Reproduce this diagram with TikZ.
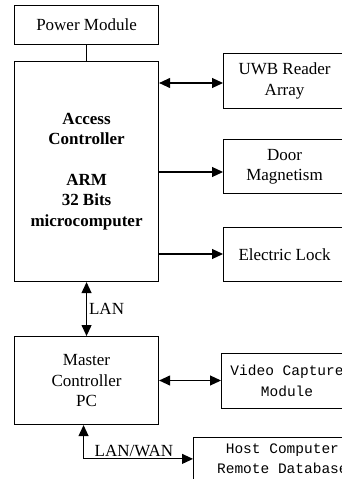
\documentclass[tikz,border=0pt]{standalone}
\usepackage{fontspec}
\setmainfont{Liberation Serif}
\newfontfamily\monof{Liberation Mono}
\usetikzlibrary{arrows.meta}
\begin{document}
\begin{tikzpicture}[x=1pt,y=-1pt,
  box/.style={draw,line width=1.1pt,inner sep=0pt,anchor=north west,align=center,
    font=\fontsize{17}{20.5}\selectfont},
  mbox/.style={box,font=\monof\fontsize{14.5}{20.5}\selectfont},
  conn/.style={line width=1.1pt,>={Triangle[length=11pt,width=10pt]}},
  lbl/.style={font=\fontsize{17}{20}\selectfont,inner sep=0pt}]
\useasboundingbox (0,0) rectangle (342,479);
\node[box,minimum width=144pt,minimum height=39pt] (power) at (14,5) {Power Module};
\node[box,minimum width=144pt,minimum height=220pt,font=\bfseries\fontsize{17}{20.3}\selectfont] (access) at (14,61)
  {Access\\Controller\\[20.3pt]ARM\\32 Bits\\microcomputer};
\node[box,minimum width=122pt,minimum height=55pt] (uwb) at (223,53) {UWB Reader\\Array};
\node[box,minimum width=122pt,minimum height=54pt] (door) at (223,139) {Door\\Magnetism};
\node[box,minimum width=122pt,minimum height=54pt] (lock) at (223,227) {Electric Lock};
\node[box,minimum width=144pt,minimum height=88pt] (master) at (14,336) {Master\\Controller\\PC};
\node[mbox,minimum width=131pt,minimum height=55pt] (video) at (221,353) {Video Capture\\Module};
\node[mbox,line width=0.8pt,minimum width=178pt,minimum height=43pt] (host) at (193,437) {Host Computer\\Remote Database};
\draw[conn] (power) -- (access);
\draw[conn,<->] (access.east |- 0,83) -- (uwb.west |- 0,83);
\draw[conn,->] (access.east |- 0,172) -- (door.west |- 0,172);
\draw[conn,->] (access.east |- 0,254) -- (lock.west |- 0,254);
\draw[conn,<->] (access) -- node[lbl,right=2pt,pos=0.5] (lan) {LAN} (master);
\draw[conn,<->] (master.east |- 0,380.5) -- (video.west |- 0,380.5);
\draw[conn,<->] ([xshift=-3pt]master.south) |- node[lbl,pos=0.73,above=2pt] (lanwan) {LAN/WAN} (host.west);
\end{tikzpicture}
\end{document}
